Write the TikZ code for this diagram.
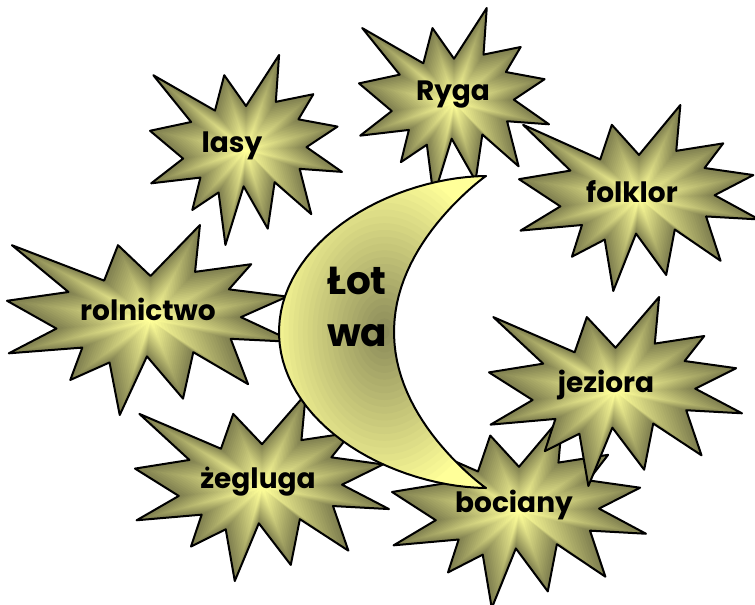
\documentclass[tikz,border=0pt]{standalone}
\usepackage{fontspec}
\newfontfamily\lblfont{Poppins}
\usetikzlibrary{positioning}
\definecolor{burstlight}{RGB}{255,255,153}
\definecolor{burstdark}{RGB}{128,128,80}
\definecolor{moondark}{RGB}{140,140,90}
% explosion outline in a 100 x 100 box round its centre
\def\burstpath{(0,-23.15) -- (17.23,-50) -- (15.53,-25.35) -- (35.09,-29.37) -- (27.32,-16.13) -- (47.67,-12.33) -- (31.51,-1.50) -- (50,11.53) -- (27.95,9.92) -- (34.00,33.77) -- (14.91,16.93) -- (11.33,41.38) -- (-1.24,19.14) -- (-10.72,50) -- (-14.28,22.35) -- (-27.95,31.56) -- (-23.76,14.52) -- (-49.37,17.53) -- (-32.77,4.51) -- (-50,-10.12) -- (-28.58,-14.74) -- (-48.29,-39.37) -- (-16.15,-20.74) -- (-11.33,-39.37) -- cycle}
% crescent round the centre of its box
\def\moonpath{(103.5,-156) -- plot[domain=-89.5:89.5,samples=60,variable=\t] ({103.5-207*pow(cos(\t),1.1)},{156*sin(\t)}) -- (103.5,156) -- plot[domain=89.5:-89.5,samples=60,variable=\t] ({103.5-92*pow(cos(\t),1.9)},{156*sin(\t)}) -- cycle}

\begin{document}
\begin{tikzpicture}[x=1pt,y=-1pt,
  outline/.style={draw=black,line width=2pt,line join=round},
  lbl/.style={font=\lblfont\bfseries\fontsize{28}{30}\selectfont,inner sep=0pt,anchor=base},
  moonlbl/.style={font=\lblfont\bfseries\fontsize{39}{52}\selectfont,inner sep=0pt,align=left,anchor=base west}]
  \useasboundingbox (0,0) rectangle (755,605);
  % name/centre x/centre y/width/height/label x/label y/text
  \foreach \nm/\cx/\cy/\w/\h/\lx/\ly/\txt in {
      lasy/246/150/192/190/232/152/lasy,
      ryga/454/102.5/190/189/453/100/Ryga,
      folklor/639/198/240/186/632/202/folklor,
      rolnictwo/150.5/320/287/190/148/320/rolnictwo,
      zegluga/262/487.5/254/187/258/488/żegluga,
      bociany/519/511.5/254/193/514/512/bociany,
      jeziora/615.5/391.5/253/189/606/392/jeziora}{
    \begin{scope}[shift={(\cx,\cy)},xscale=\w/100,yscale=\h/100]
      \begin{scope}
        \clip \burstpath;
        \foreach \i in {0,...,24}{
          \pgfmathsetmacro\s{1-\i/25}
          \pgfmathsetmacro\p{100*\i/24}
          \fill[burstlight!\p!burstdark,scale=\s] \burstpath;
        }
      \end{scope}
      \draw[outline] \burstpath;
    \end{scope}
    \node[lbl] (\nm) at (\lx,\ly) {\txt};
  }
  % moon
  \begin{scope}[shift={(382.5,332)}]
    \begin{scope}
      \clip \moonpath;
      \fill[burstlight] \moonpath;
      \foreach \i in {0,...,24}{
        \pgfmathsetmacro\s{1-\i/25}
        \pgfmathsetmacro\p{100*\i/24}
        \fill[moondark!\p!burstlight] (2,0) ellipse[x radius=120*\s,y radius=170*\s];
      }
    \end{scope}
    \draw[outline] \moonpath;
  \end{scope}
  \node[moonlbl] (lotwa) at (327,346) {Łot\\wa};
\end{tikzpicture}
\end{document}
